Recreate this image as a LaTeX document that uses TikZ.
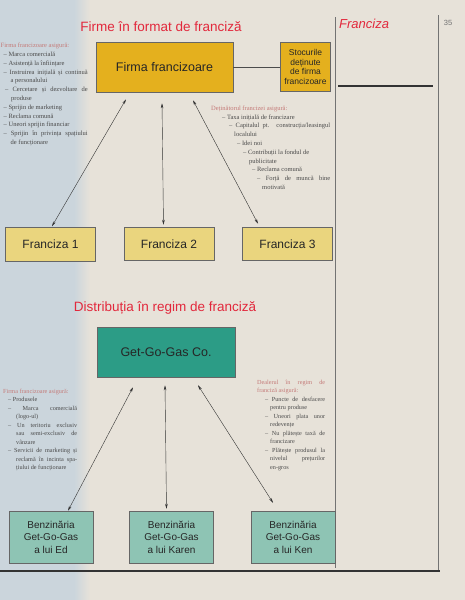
\documentclass[tikz,border=0pt]{standalone}
\usepackage{fontspec}
\setmainfont{Liberation Serif}
\setsansfont{Liberation Sans}
\usepackage{xcolor}
\usepackage{tikz}
\usetikzlibrary{arrows.meta, positioning}
\definecolor{pagebg}{HTML}{E7E2D9}
\definecolor{leftblue}{HTML}{CBD5DC}
\definecolor{titlered}{HTML}{E2283C}
\definecolor{headpink}{HTML}{C47A78}
\definecolor{notegray}{HTML}{4A4A4A}
\definecolor{ownergold}{HTML}{E4B01E}
\definecolor{unityellow}{HTML}{EAD57E}
\definecolor{gasteal}{HTML}{2C9C86}
\definecolor{stationteal}{HTML}{8EC4B4}
\newcommand{\dashitem}[3]{\par\noindent\hangindent=#2\hangafter=1\hspace*{#1}--\ #3\par}
\tikzset{
    baseblock/.style={rectangle, draw=black!60, line width=0.5pt, text centered, text=black!85, inner sep=2pt},
    ownerblock/.style={baseblock, fill=ownergold, minimum width=137pt, minimum height=50pt, font=\sffamily\fontsize{12.5}{14}\selectfont},
    stockblock/.style={baseblock, fill=ownergold, minimum width=50pt, minimum height=49pt, align=center, inner sep=1pt, font=\sffamily\fontsize{8.5}{9.5}\selectfont},
    unitblock/.style={baseblock, fill=unityellow, minimum width=90pt, minimum height=33pt, font=\sffamily\fontsize{12}{14}\selectfont},
    companyblock/.style={baseblock, fill=gasteal, minimum width=138pt, minimum height=50pt, font=\sffamily\fontsize{12.5}{14}\selectfont},
    stationblock/.style={baseblock, fill=stationteal, minimum width=84pt, minimum height=52pt, align=center, font=\sffamily\fontsize{10}{12.5}\selectfont},
    heading/.style={font=\sffamily\fontsize{13.5}{16}\selectfont, text=titlered, inner sep=0pt},
    notetext/.style={anchor=north west, inner sep=0pt, align=justify, text=notegray, font=\fontsize{6.5}{8.8}\selectfont},
    arrow/.style={thin, {Stealth[length=5pt,width=2.6pt]}-{Stealth[length=5pt,width=2.6pt]}, color=black!80},
    line/.style={thin, color=black!70}
}
\begin{document}
\begin{tikzpicture}[x=1pt, y=-1pt]
    % page
    \useasboundingbox (0,0) rectangle (465,600);
    \fill[pagebg] (0,0) rectangle (465,600);
    \fill[leftblue] (0,0) rectangle (74,600);
    \shade[left color=leftblue, right color=pagebg] (74,0) rectangle (90,600);
    \draw[black!55, line width=0.5pt] (335,17) -- (335,568);
    \draw[black!55, line width=0.5pt] (438,15) -- (438,570);
    \draw[black!80, line width=2pt] (338,86) -- (433,86);
    \draw[black!80, line width=1.8pt] (0,571) -- (440,571);
    \node (side) [anchor=west, inner sep=0pt, text=titlered, font=\sffamily\itshape\fontsize{13}{15}\selectfont] at (339,24) {Franciza};
    \node (pagenum) [inner sep=0pt, text=black!55, font=\sffamily\fontsize{7.5}{9}\selectfont] at (448,23) {35};

    % franchise format
    \node (title1) [heading] at (161,27) {Firme în format de franciză};
    \node (firma) [ownerblock] at (164.5,67) {Firma francizoare};
    \node (stoc) [stockblock, right=47pt of firma] {Stocurile\\ deținute\\ de firma\\ francizoare};
    \node (fr1) [unitblock, minimum height=34pt] at (50.5,244) {Franciza 1};
    \node (fr2) [unitblock, right=28pt of fr1] {Franciza 2};
    \node (fr3) [unitblock, right=28pt of fr2] {Franciza 3};

    \node (ownernotes) [notetext, text width=87pt] at (0.5,43) {%
        \noindent{\color{headpink}Firma francizoare asigură:}
        \dashitem{3pt}{10pt}{Marca comercială}
        \dashitem{3pt}{10pt}{Asistență la înființare}
        \dashitem{3pt}{10pt}{Instruirea inițială și continuă \linebreak a personalului}
        \dashitem{4.5pt}{10.5pt}{Cercetare și dezvoltare de \linebreak produse}
        \dashitem{3pt}{10pt}{Sprijin de marketing}
        \dashitem{3pt}{10pt}{Reclama comună}
        \dashitem{3pt}{10pt}{Uneori sprijin financiar}
        \dashitem{3pt}{10pt}{Sprijin în privința spațiului \linebreak de funcționare}};
    \node (holdernotes) [notetext, text width=119pt] at (211,105.5) {%
        \noindent{\color{headpink}Deținătorul francizei asigură:}
        \dashitem{11pt}{16pt}{Taxa inițială de francizare}
        \dashitem{18pt}{23pt}{Capitalul pt. construcția/leasingul \linebreak localului}
        \dashitem{26pt}{31pt}{Idei noi}
        \dashitem{32pt}{38pt}{Contribuții la fondul de \newline publicitate}
        \dashitem{41pt}{46pt}{Reclama comună}
        \dashitem{46pt}{51pt}{Forță de muncă bine \linebreak motivată}};

    \draw [line] (firma.east) -- (stoc.west);
    \draw [arrow] ([xshift=-38.5pt,yshift=-7pt]firma.south) -- ([xshift=1.5pt,yshift=0.5pt]fr1.north);
    \draw [arrow] ([xshift=-2.5pt,yshift=-11pt]firma.south) -- ([xshift=-5.5pt,yshift=2.5pt]fr2.north);
    \draw [arrow] ([xshift=28.5pt,yshift=-8pt]firma.south) -- ([xshift=-29.5pt,yshift=3.5pt]fr3.north);

    % franchise distribution
    \node (title2) [heading] at (165,308) {Distribuția în regim de franciză};
    \node (gas) [companyblock] at (166,352) {Get-Go-Gas Co.};
    \node (ed) [stationblock] at (51,537) {Benzinăria\\ Get-Go-Gas\\ a lui Ed};
    \node (karen) [stationblock, right=36pt of ed] {Benzinăria\\ Get-Go-Gas\\ a lui Karen};
    \node (ken) [stationblock, right=37pt of karen] {Benzinăria\\ Get-Go-Gas\\ a lui Ken};

    \node (gasnotes) [notetext, text width=74pt, font=\fontsize{6.2}{8.5}\selectfont] at (3,388.5) {%
        \noindent{\color{headpink}Firma francizoare asigură:}
        \dashitem{5pt}{13pt}{Produsele}
        \dashitem{5pt}{13pt}{Marca comercială \linebreak (logo-ul)}
        \dashitem{5pt}{13pt}{Un teritoriu exclusiv \linebreak sau semi-exclusiv de \linebreak vânzare}
        \dashitem{5pt}{13pt}{Servicii de marketing și \linebreak reclamă în incinta spa-\linebreak țiului de funcționare}};
    \node (dealernotes) [notetext, text width=68pt, font=\fontsize{6.2}{8.5}\selectfont] at (257,379.5) {%
        \noindent{\color{headpink}Dealerul în regim de \linebreak franciză asigură:}
        \dashitem{8pt}{13pt}{Puncte de desfacere \linebreak pentru produse}
        \dashitem{8pt}{13pt}{Uneori plata unor \linebreak redevențe}
        \dashitem{8pt}{13pt}{Nu plătește taxă de \linebreak francizare}
        \dashitem{8pt}{13pt}{Plătește produsul la \linebreak nivelul prețurilor \linebreak en-gros}};

    \draw [arrow] ([xshift=-33pt,yshift=-10pt]gas.south) -- ([xshift=17pt]ed.north);
    \draw [arrow] ([xshift=-1pt,yshift=-8pt]gas.south) -- ([xshift=-5pt,yshift=2pt]karen.north);
    \draw [arrow] ([xshift=32pt,yshift=-8pt]gas.south) -- ([xshift=-20pt,yshift=8pt]ken.north);
\end{tikzpicture}
\end{document}
